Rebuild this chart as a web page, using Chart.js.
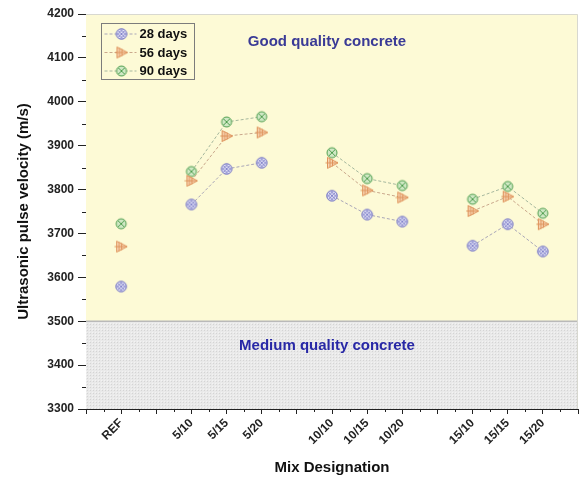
<!DOCTYPE html>
<html>
<head>
<meta charset="utf-8">
<script src="https://cdn.jsdelivr.net/npm/chart.js@4/dist/chart.umd.min.js"></script>
<style>
  html, body { margin: 0; padding: 0; background: #ffffff; }
  #c { display: block; }
</style>
</head>
<body>
<canvas id="c" width="581" height="477"></canvas>
<script>
// Mix designations, their positions on the x axis and the group each belongs to
const mixLabels    = ['REF', '5/10', '5/15', '5/20', '10/10', '10/15', '10/20', '15/10', '15/15', '15/20'];
const mixPositions = [1, 3, 4, 5, 7, 8, 9, 11, 12, 13];
const mixGroups    = [0, 1, 1, 1, 2, 2, 2, 3, 3, 3];

// Ultrasonic pulse velocity (m/s) by curing age
const upv28 = [3579, 3766, 3847, 3861, 3786, 3743, 3727, 3672, 3721, 3659];
const upv56 = [3670, 3820, 3922, 3930, 3861, 3798, 3782, 3751, 3784, 3721];
const upv90 = [3722, 3841, 3954, 3966, 3884, 3825, 3809, 3778, 3807, 3746];

// Axis ticks
const xTickValues = [0, 1, 2, 3, 4, 5, 6, 7, 8, 9, 10, 11, 12, 13, 14];
const yTickValues = [3300, 3400, 3500, 3600, 3700, 3800, 3900, 4000, 4100, 4200];

// Quality zones
const zoneBoundary = 3500;
const zoneLabels = ['Good quality concrete', 'Medium quality concrete'];

const FONT = '"Liberation Sans", Arial, Helvetica, sans-serif';

// Build points for one series, breaking the dashed line between mix groups
function seriesPoints(values) {
  const pts = [];
  values.forEach((v, i) => {
    if (i > 0 && mixGroups[i] !== mixGroups[i - 1]) {
      pts.push({ x: (mixPositions[i] + mixPositions[i - 1]) / 2, y: null });
    }
    pts.push({ x: mixPositions[i], y: v });
  });
  return pts;
}

// Small marker glyphs
function makeMarker(kind) {
  const c = document.createElement('canvas');
  c.width = 14; c.height = 14;
  const g = c.getContext('2d');
  g.lineWidth = 1;
  if (kind === 'lattice') {
    g.beginPath(); g.arc(7, 7, 5.3, 0, Math.PI * 2);
    g.fillStyle = '#e2e2f6'; g.fill();
    g.save(); g.clip();
    g.strokeStyle = '#8686cc';
    for (let k = -14; k <= 28; k += 3.5) {
      g.beginPath(); g.moveTo(k, 0); g.lineTo(k + 14, 14); g.stroke();
      g.beginPath(); g.moveTo(k, 14); g.lineTo(k + 14, 0); g.stroke();
    }
    g.restore();
    g.beginPath(); g.arc(7, 7, 5.3, 0, Math.PI * 2);
    g.strokeStyle = '#7a7ac4'; g.stroke();
  } else if (kind === 'triangle') {
    g.beginPath(); g.moveTo(2.5, 1.5); g.lineTo(13, 7); g.lineTo(2.5, 12.5); g.closePath();
    g.fillStyle = '#f8d6b4'; g.fill();
    g.strokeStyle = '#de925a'; g.stroke();
    g.beginPath();
    g.moveTo(0.5, 7); g.lineTo(13, 7);
    g.moveTo(5, 2.5); g.lineTo(5, 11.5);
    g.moveTo(7.5, 3.5); g.lineTo(7.5, 10.5);
    g.stroke();
  } else {
    g.beginPath(); g.arc(7, 7, 5, 0, Math.PI * 2);
    g.fillStyle = '#cfe8c4'; g.fill();
    g.strokeStyle = '#4f9e4f'; g.stroke();
    g.beginPath();
    g.moveTo(3.8, 3.8); g.lineTo(10.2, 10.2);
    g.moveTo(10.2, 3.8); g.lineTo(3.8, 10.2);
    g.stroke();
  }
  return c;
}

// Dotted texture for the medium-quality zone
function makeDotPattern(ctx) {
  const p = document.createElement('canvas');
  p.width = 3; p.height = 3;
  const g = p.getContext('2d');
  g.fillStyle = '#e9e9e9'; g.fillRect(0, 0, 3, 3);
  g.fillStyle = '#d4d4d4'; g.fillRect(0, 0, 1, 1);
  g.fillStyle = '#f3f3f3'; g.fillRect(2, 2, 1, 1);
  return ctx.createPattern(p, 'repeat');
}

// Zone backgrounds and labels
const zonePlugin = {
  id: 'zones',
  beforeDatasetsDraw(chart) {
    const { ctx, chartArea: a, scales: { y } } = chart;
    const yb = y.getPixelForValue(zoneBoundary);
    ctx.save();
    ctx.fillStyle = '#fdfad6';
    ctx.fillRect(a.left, a.top, a.right - a.left, yb - a.top);
    ctx.fillStyle = makeDotPattern(ctx);
    ctx.fillRect(a.left, yb, a.right - a.left, a.bottom - yb);
    ctx.strokeStyle = '#b9b9b9'; ctx.lineWidth = 1.5;
    ctx.beginPath(); ctx.moveTo(a.left, yb); ctx.lineTo(a.right, yb); ctx.stroke();
    ctx.strokeStyle = '#d8d8d0'; ctx.lineWidth = 1;
    ctx.beginPath();
    ctx.moveTo(a.left, a.top + 0.5); ctx.lineTo(a.right - 0.5, a.top + 0.5); ctx.lineTo(a.right - 0.5, a.bottom);
    ctx.stroke();
    const cx = (a.left + a.right) / 2 - 5;
    ctx.font = 'bold 15px ' + FONT;
    ctx.textAlign = 'center'; ctx.textBaseline = 'middle';
    ctx.fillStyle = '#3a3a96';
    ctx.fillText(zoneLabels[0], cx, y.getPixelForValue(4137));
    ctx.fillStyle = '#2828a6';
    ctx.fillText(zoneLabels[1], cx, y.getPixelForValue(3443));
    ctx.restore();
  }
};

// Minor tick marks between the labelled ticks
const minorTickPlugin = {
  id: 'minorTicks',
  afterDraw(chart) {
    const { ctx, chartArea: a, scales: { x, y } } = chart;
    ctx.save();
    ctx.strokeStyle = '#222'; ctx.lineWidth = 1;
    ctx.beginPath();
    for (let i = 0; i < yTickValues.length - 1; i++) {
      const py = Math.round(y.getPixelForValue((yTickValues[i] + yTickValues[i + 1]) / 2)) + 0.5;
      ctx.moveTo(a.left - 4, py); ctx.lineTo(a.left, py);
    }
    for (let i = 0; i < xTickValues.length - 1; i++) {
      const px = Math.round(x.getPixelForValue((xTickValues[i] + xTickValues[i + 1]) / 2)) + 0.5;
      ctx.moveTo(px, a.bottom); ctx.lineTo(px, a.bottom + 3);
    }
    ctx.stroke();
    ctx.restore();
  }
};

// Boxed legend with dashed line samples
const boxLegendPlugin = {
  id: 'boxLegend',
  afterDatasetsDraw(chart) {
    const { ctx, chartArea: a } = chart;
    const bx = a.left + 15.5, by = a.top + 9.5, bw = 93, bh = 56, row = 18.5;
    ctx.save();
    ctx.strokeStyle = '#7c7c7c'; ctx.lineWidth = 1;
    ctx.strokeRect(bx, by, bw, bh);
    chart.data.datasets.forEach((ds, i) => {
      const ry = by + 10.5 + i * row;
      ctx.strokeStyle = ds.borderColor; ctx.setLineDash(ds.borderDash);
      ctx.beginPath(); ctx.moveTo(bx + 3, ry); ctx.lineTo(bx + 35, ry); ctx.stroke();
      ctx.setLineDash([]);
      ctx.drawImage(ds.pointStyle, bx + 20 - 7, ry - 7);
      ctx.fillStyle = '#111';
      ctx.font = 'bold 13px ' + FONT;
      ctx.textAlign = 'left'; ctx.textBaseline = 'middle';
      ctx.fillText(ds.label, bx + 38, ry + 0.5);
    });
    ctx.restore();
  }
};

const mk28 = makeMarker('lattice');
const mk56 = makeMarker('triangle');
const mk90 = makeMarker('cross');

function series(label, values, color, marker) {
  return {
    label,
    data: seriesPoints(values),
    showLine: true,
    spanGaps: false,
    borderColor: color,
    borderWidth: 1,
    borderDash: [3, 2],
    pointStyle: marker,
    pointRadius: 6,
    pointHoverRadius: 6
  };
}

new Chart(document.getElementById('c'), {
  type: 'scatter',
  data: {
    datasets: [
      series('28 days', upv28, '#a9a6b8', mk28),
      series('56 days', upv56, '#caa88c', mk56),
      series('90 days', upv90, '#a6b89e', mk90)
    ]
  },
  options: {
    responsive: false,
    devicePixelRatio: 1,
    animation: false,
    layout: { autoPadding: false, padding: { top: 14, right: 3, left: 0, bottom: 0 } },
    plugins: { legend: { display: false }, tooltip: { enabled: false } },
    scales: {
      x: {
        type: 'linear',
        min: xTickValues[0],
        max: xTickValues[xTickValues.length - 1],
        afterBuildTicks: s => { s.ticks = xTickValues.map(v => ({ value: v })); },
        afterFit: s => { s.height = 68; s.paddingRight = 0; s.paddingLeft = 0; },
        ticks: {
          autoSkip: false,
          maxRotation: 45,
          minRotation: 45,
          padding: 2,
          color: '#222',
          font: { family: FONT, size: 12, weight: 'bold' },
          callback: v => {
            const i = mixPositions.indexOf(v);
            return i >= 0 ? mixLabels[i] : '';
          }
        },
        grid: { drawOnChartArea: false, drawTicks: true, tickLength: 5, color: '#222' },
        border: { color: '#222', width: 1 },
        title: {
          display: true,
          text: 'Mix Designation',
          color: '#111',
          font: { family: FONT, size: 15, weight: 'bold' },
          padding: { top: 4, bottom: 0 }
        }
      },
      y: {
        min: yTickValues[0],
        max: yTickValues[yTickValues.length - 1],
        afterBuildTicks: s => { s.ticks = yTickValues.map(v => ({ value: v })); },
        afterFit: s => { s.width = 86; },
        ticks: {
          padding: 4,
          color: '#222',
          font: { family: FONT, size: 12, weight: 'bold' },
          callback: v => String(v)
        },
        grid: { drawOnChartArea: false, drawTicks: true, tickLength: 8, color: '#222' },
        border: { color: '#222', width: 1 },
        title: {
          display: true,
          text: 'Ultrasonic pulse velocity (m/s)',
          color: '#111',
          font: { family: FONT, size: 15, weight: 'bold' },
          padding: { top: 15, bottom: 0 }
        }
      }
    }
  },
  plugins: [zonePlugin, minorTickPlugin, boxLegendPlugin]
});
</script>
</body>
</html>
